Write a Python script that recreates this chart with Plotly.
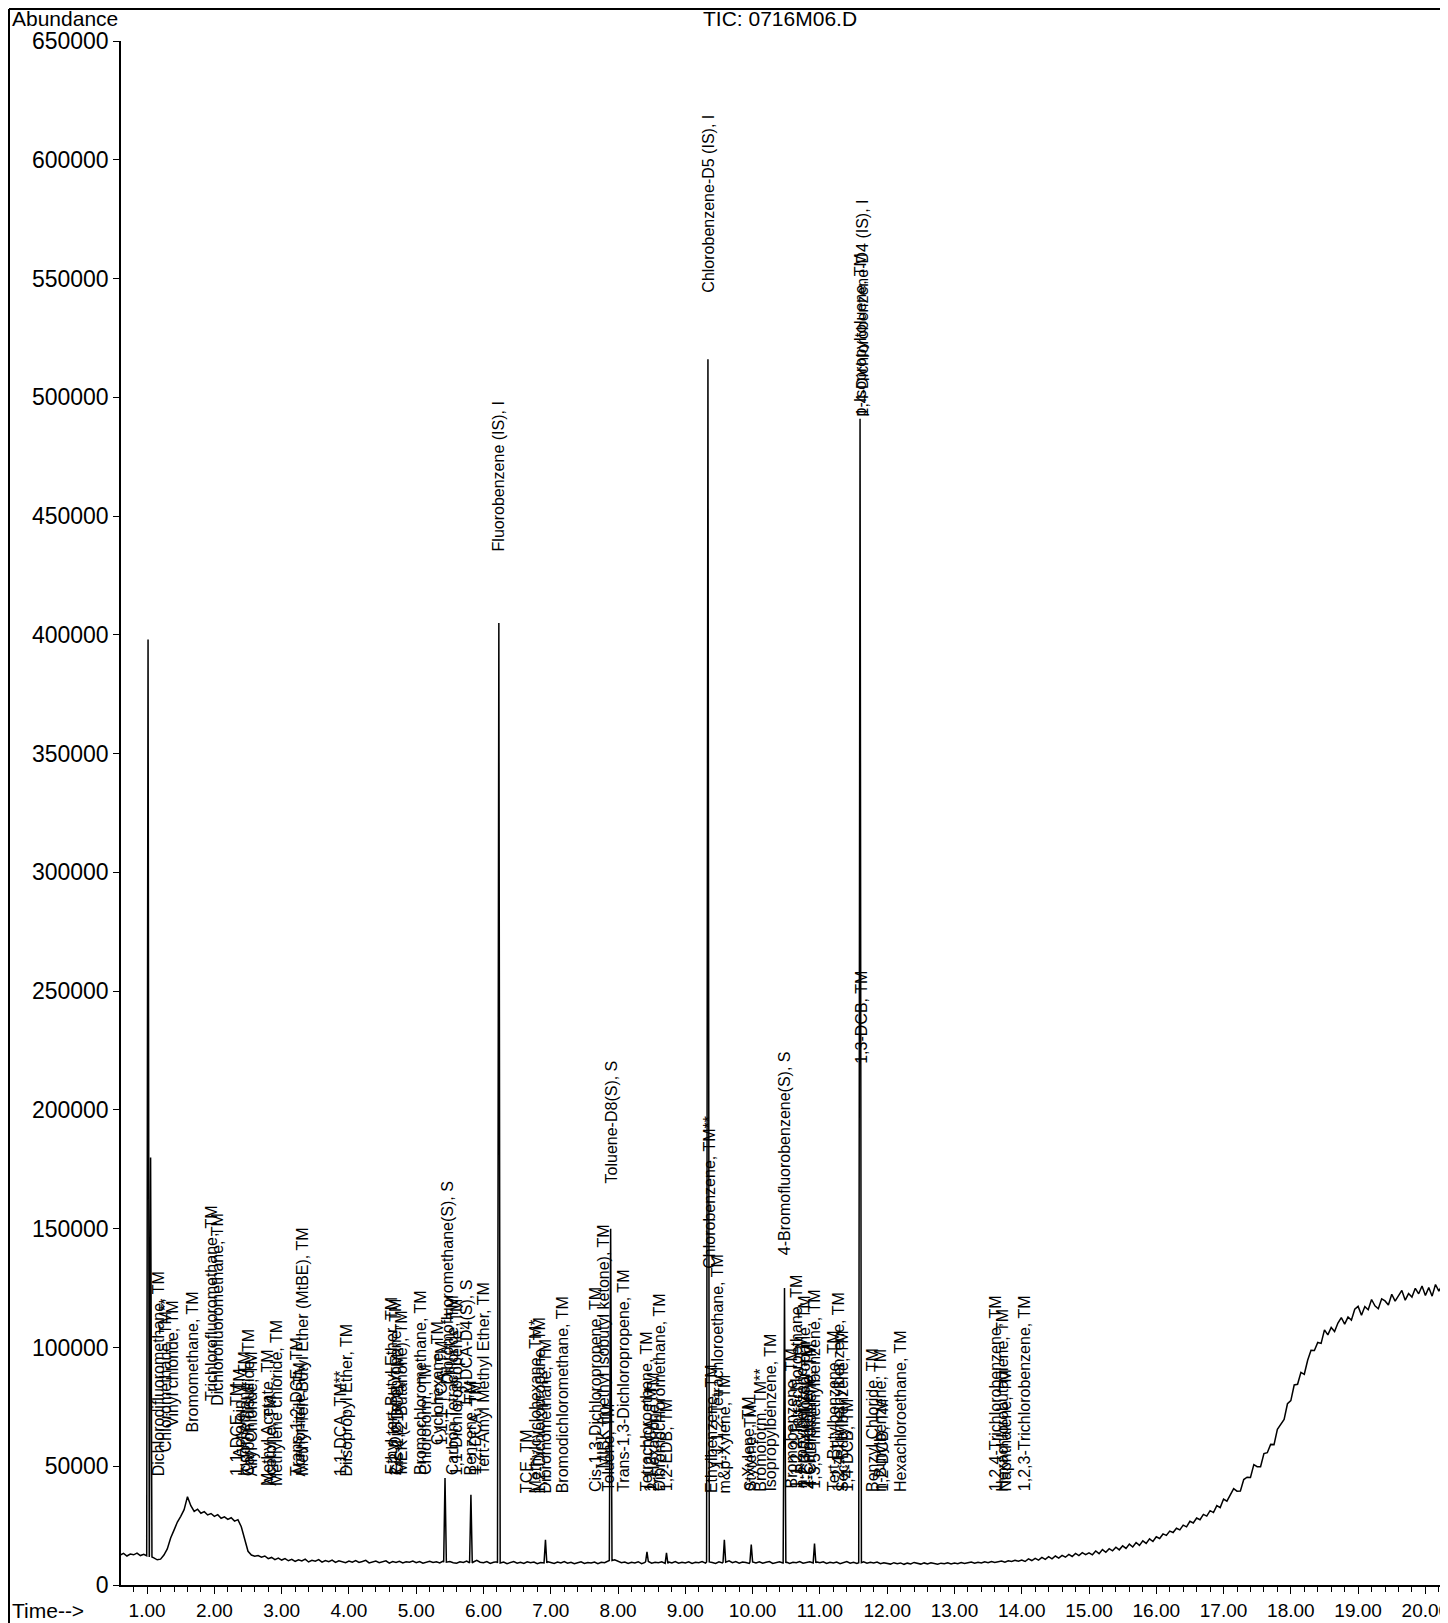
import numpy as np
import plotly.graph_objects as go

# ---------------- data ----------------
# baseline (TIC abundance) sampled every 0.05 min starting at 0.60 min
baseline_start = 0.6
baseline_step = 0.05
baseline_abundance = [
    # 0.60 - 0.95
    12600, 13300, 12200, 13000, 12700, 13400, 12400, 12900,
    # 1.00 - 1.95
    12300, 11800, 11400, 10600, 10900, 12600, 15200, 19800, 23100, 26500,
    28900, 31700, 37200, 33400, 31000, 31900, 30200, 30900, 29500, 30100,
    # 2.00 - 2.95
    28900, 29600, 28100, 28700, 27600, 28300, 26900, 27500, 24500, 19500,
    14200, 12600, 12100, 12400, 11700, 12200, 11100, 11600, 10700, 11300,
    # 3.00 - 3.95
    10500, 11100, 10200, 10800, 9900, 10600, 10100, 10900, 9700, 10400,
    10000, 10700, 9600, 10300, 9800, 10500, 9500, 10200, 9900, 9400,
    # 4.00 - 4.95
    10100, 9600, 10300, 9500, 9900, 10400, 9300, 9800, 10100, 9400,
    9700, 10200, 9200, 9900, 9500, 10000, 9300, 9800, 9600, 10100,
    # 5.00 - 5.95
    9400, 9900, 9200, 9700, 10000, 9500, 9800, 9300, 10100, 9600,
    9900, 9400, 9200, 9800, 9500, 10100, 9300, 9700, 10400, 9600,
    # 6.00 - 6.95
    9400, 9900, 9100, 9600, 9800, 9300, 9700, 9000, 9500, 9900,
    9200, 9600, 9100, 9800, 9400, 9700, 9000, 9500, 9300, 9800,
    # 7.00 - 7.95
    9500, 9100, 9700, 9300, 9900, 9200, 9600, 9000, 9400, 9800,
    9100, 9500, 9300, 9700, 9000, 9600, 9400, 9900, 10300, 10600,
    # 8.00 - 8.95
    9900, 9400, 9700, 9100, 9600, 9300, 9800, 9000, 9500, 9900,
    9200, 9600, 9400, 9800, 9100, 9700, 9300, 9900, 9200, 9600,
    # 9.00 - 9.95
    9300, 9800, 9100, 9600, 9400, 9900, 9200, 9700, 9500, 9100,
    9800, 9300, 9600, 10200, 9400, 9900, 9200, 9700, 9500, 9100,
    # 10.00 - 10.95
    9700, 9300, 9800, 9200, 9600, 9900, 9100, 9500, 9800, 9300,
    9700, 9100, 9600, 9400, 9900, 9200, 9500, 9800, 9300, 9700,
    # 11.00 - 11.95
    9400, 9800, 9100, 9600, 9300, 9700, 9000, 9500, 9900, 9200,
    9600, 9100, 9400, 9800, 9200, 9600, 9300, 9700, 9000, 9400,
    # 12.00 - 12.95
    9100, 8800, 9400, 9000, 9300, 8700, 9200, 8900, 9500, 9000,
    8800, 9300, 8900, 9400, 9100, 8700, 9200, 9000, 9400, 8900,
    # 13.00 - 13.95
    9300, 9000, 9500, 9100, 9400, 9700, 9200, 9600, 9300, 9800,
    9400, 9900, 9500, 9800, 10100, 9600, 10200, 9900, 10400, 10000,
    # 14.00 - 14.95
    10500, 9900, 11000, 10300, 11200, 10500, 11600, 10800, 11900, 11000,
    12200, 11300, 12500, 11700, 12900, 12000, 13300, 12400, 13600, 12800,
    # 15.00 - 15.95
    13500, 12700, 14300, 13200, 14900, 13800, 15300, 14400, 15900, 14800,
    16500, 15400, 17200, 16000, 17900, 16700, 18600, 17500, 19400, 18300,
    # 16.00 - 16.95
    20300, 19600, 21500, 20900, 22700, 22100, 23900, 23200, 25200, 24500,
    26800, 26100, 28200, 27500, 29700, 29000, 31300, 30500, 33400, 32600,
    # 17.00 - 17.95
    36200, 35300, 38000, 40600, 39500, 39600, 44400, 45400, 45300, 50700,
    49800, 49800, 55300, 55700, 59200, 59100, 65500, 67500, 69700, 76300,
    # 18.00 - 18.95
    77600, 84200, 84500, 89500, 88700, 94600, 98800, 98700, 102100, 101700,
    107400, 105300, 108400, 106700, 110300, 112600, 109800, 112800, 111500, 116100,
    # 19.00 - 19.95
    117300, 113600, 117200, 115900, 120200, 117500, 116300, 120500, 119600, 117900,
    122400, 119500, 121800, 124000, 119900, 122700, 121200, 124900, 122600, 125900,
    # 20.00 - 20.30
    121900, 125200, 121600, 126500, 123700, 126300, 123300,
]

# peaks: retention time (min) and apex abundance
peak_rt = [1.014, 1.052, 5.428, 5.813, 6.228, 6.921, 7.890, 8.43, 8.72,
           9.336, 9.58, 9.98, 10.474, 10.92, 11.597]
peak_height = [398000, 180000, 45000, 38000, 405000, 19000, 150000, 14000, 13500,
               516000, 19000, 17000, 125000, 17500, 491000]

# compound labels: text, retention time, abundance where the label starts
label_text = [
    "Dichlorodifluoromethane, TM", "Chloromethane, TM**", "Vinyl chloride, TM",
    "Bromomethane, TM", "Trichlorofluoromethane, TM", "Dichlorofluoromethane, TM",
    "1,1-DCE, TM", "Acrolein, TM", "Iodomethane, TM", "Carbon disulfide, TM",
    "Allyl Chloride, TM", "Methyl Acetate, TM", "Acetone, TM", "Methylene chloride, TM",
    "Trans-1,2-DCE, TM", "Acrylonitrile, TM", "Methyl-Tert-Butyl Ether (MtBE), TM",
    "1,1-DCA, TM**", "Diisopropyl Ether, TM",
    "Ethyl tert-Butyl Ether, TM", "2,2-Dichloropropane, TM", "Cis-1,2-DCE, TM",
    "MEK (2-Butanone), TM", "Bromochloromethane, TM", "Chloroform, TM",
    "Cyclohexane, TM", "1,1,1-TCA, TM", "Dibromofluoromethane(S), S",
    "Carbon Tetrachloride, TM", "1,1-Dichloropropene, TM", "Benzene, TM",
    "1,2-DCA-D4(S), S", "1,2-DCA, TM", "Tert-Amyl Methyl Ether, TM",
    "TCE, TM", "Methylcyclohexane, TM*", "1,2-Dichloropropane, TM",
    "Dibromomethane, TM", "Bromodichloromethane, TM", "Cis-1,3-Dichloropropene, TM",
    "MIBK (methyl isobutyl ketone), TM", "Toluene, TM", "Toluene-D8(S), S",
    "Trans-1,3-Dichloropropene, TM", "Tetrachloroethene, TM", "1,1,2-TCA, TM",
    "2-Hexanone, TM", "Dibromochloromethane, TM", "1,2-EDB, TM",
    "Chlorobenzene, TM**", "Ethylbenzene, TM", "1,1,1,2-Tetrachloroethane, TM",
    "m&p-Xylene, TM", "o-Xylene, TM", "Styrene, TM", "Bromoform, TM**",
    "Isopropylbenzene, TM", "4-Bromofluorobenzene(S), S", "Bromobenzene, TM",
    "1,1,2,2-Tetrachloroethane, TM", "n-Propylbenzene, TM", "1,2,3-Trichloropropane, TM",
    "2-Chlorotoluene, TM", "4-Chlorotoluene, TM", "1,3,5-Trimethylbenzene, TM",
    "Tert-Butylbenzene, TM", "1,2,4-Trimethylbenzene, TM", "Sec-Butylbenzene, TM",
    "1,4-DCB, TM", "Benzyl Chloride, TM", "n-Butylbenzene, TM", "1,2-DCB, TM",
    "Hexachloroethane, TM", "1,2,4-Trichlorobenzene, TM", "Hexachlorobutadiene, TM",
    "Naphthalene, TM", "1,2,3-Trichlorobenzene, TM",
    "Fluorobenzene (IS), I", "Chlorobenzene-D5 (IS), I",
    "1,4-Dichlorobenzene-D4 (IS), I", "p-Isopropyltoluene, TM", "1,3-DCB, TM",
]
label_rt = [
    1.168, 1.275, 1.367, 1.667, 1.967, 2.044, 2.337, 2.383, 2.460, 2.506,
    2.552, 2.782, 2.829, 2.922, 3.229, 3.260, 3.321, 3.867, 3.967,
    4.634, 4.684, 4.734, 4.784, 5.066, 5.141, 5.329, 5.380, 5.453,
    5.551, 5.591, 5.799, 5.750, 5.874, 5.999,
    6.642, 6.765, 6.839, 6.914, 7.187, 7.657, 7.781, 7.865, 7.906,
    8.078, 8.425, 8.474, 8.523, 8.623, 8.722,
    9.367, 9.398, 9.474, 9.582, 9.935, 9.966, 10.105, 10.274, 10.474, 10.582,
    10.659, 10.720, 10.766, 10.812, 10.858, 10.920, 11.197, 11.274, 11.335,
    11.397, 11.781, 11.889, 11.920, 12.197, 13.612, 13.704, 13.766, 14.043,
    6.228, 9.351, 11.627, 11.597, 11.627,
]
label_abund = [
    44900, 54900, 65800, 63600, 76700, 74500, 44900, 52700, 44900, 44900,
    44900, 41000, 41000, 41000, 44900, 44900, 44900, 44900, 44900,
    45500, 45500, 45500, 45500, 45500, 45500, 58100, 58100, 83300,
    45500, 45500, 45500, 73700, 45500, 45500,
    37700, 37700, 37700, 37700, 37700, 38500, 48300, 38500, 168300,
    38500, 38500, 38500, 38500, 38500, 38500,
    132100, 37700, 48400, 37700, 38500, 38500, 38500, 38500, 137800, 39700,
    39700, 39700, 39700, 39700, 39700, 39700, 38500, 38500, 38500,
    38500, 38500, 38500, 38500, 38500, 38500, 38500, 38500, 38500,
    434200, 543200, 490900, 490900, 218400,
]

y_tick_values = list(range(0, 650001, 50000))
x_tick_values = list(range(1, 21))

# ---------------- build the trace ----------------
bl_t = np.round(baseline_start + baseline_step * np.arange(len(baseline_abundance)), 3)
bl_v = np.array(baseline_abundance, dtype=float)
W = 0.02
keep = np.ones(len(bl_t), dtype=bool)
for rt in peak_rt:
    keep &= ~((bl_t > rt - W) & (bl_t < rt + W))
xs = list(bl_t[keep])
ys = list(bl_v[keep])
for rt, h in zip(peak_rt, peak_height):
    foot = bl_v[int(np.argmin(np.abs(bl_t - rt)))]
    xs += [rt - W, rt, rt + W]
    ys += [foot, h, foot]
order = np.argsort(xs, kind="stable")
xs = np.array(xs)[order]
ys = np.array(ys)[order]

FONT = "Liberation Sans, Arial, sans-serif"
fig = go.Figure()
fig.add_trace(go.Scatter(x=xs, y=ys, mode="lines",
                         line=dict(color="black", width=1.5),
                         hoverinfo="skip", showlegend=False))

# the page body keeps an 8 px margin, so the figure is 8 px smaller
OFF = 8
W_PX, H_PX = 1448 - OFF, 1623 - OFF
ML, MR, MT = 121 - OFF, 0, 41 - OFF
MB = H_PX - (1585 - OFF)
PW = W_PX - ML - MR
PH = H_PX - MT - MB


def px_x(page_px):
    return (page_px - OFF - ML) / PW


def px_y(page_py):
    return (1585 - page_py) / PH


annotations = []
for txt, rt, ab in zip(label_text, label_rt, label_abund):
    annotations.append(dict(x=rt, y=ab, xref="x", yref="y", text=txt,
                            textangle=-90, showarrow=False,
                            xanchor="center", yanchor="bottom",
                            font=dict(family=FONT, size=16, color="black")))

annotations += [
    dict(x=px_x(10), y=px_y(19), xref="paper", yref="paper", text="Abundance",
         showarrow=False, xanchor="left", yanchor="middle",
         font=dict(family=FONT, size=21, color="black")),
    dict(x=px_x(780), y=px_y(19), xref="paper", yref="paper", text="TIC: 0716M06.D",
         showarrow=False, xanchor="center", yanchor="middle",
         font=dict(family=FONT, size=21, color="black")),
    dict(x=px_x(10), y=px_y(1610), xref="paper", yref="paper", text="Time-->",
         showarrow=False, xanchor="left", yanchor="middle",
         font=dict(family=FONT, size=21, color="black")),
]

shapes = [
    dict(type="line", xref="paper", yref="paper", x0=px_x(9), x1=px_x(9),
         y0=px_y(1623), y1=px_y(9), line=dict(color="black", width=2)),
    dict(type="line", xref="paper", yref="paper", x0=px_x(9), x1=1.0,
         y0=px_y(9), y1=px_y(9), line=dict(color="black", width=2)),
]

fig.update_layout(
    width=W_PX, height=H_PX,
    margin=dict(l=ML, r=MR, t=MT, b=MB, pad=0),
    paper_bgcolor="white", plot_bgcolor="white",
    annotations=annotations, shapes=shapes,
    showlegend=False,
    xaxis=dict(range=[0.612, 20.336], tickmode="array", tickvals=x_tick_values,
               tickformat=".2f", showgrid=False, zeroline=False, automargin=False,
               showline=True, linecolor="black", linewidth=1.5,
               ticks="outside", ticklen=7, tickwidth=1.3, tickcolor="black",
               ticklabelstandoff=0, ticklabeloverflow="allow",
               minor=dict(dtick=0.2, tick0=0, ticks="outside", ticklen=5,
                          tickwidth=1, tickcolor="black", showgrid=False),
               tickfont=dict(family=FONT, size=19, color="black")),
    yaxis=dict(range=[0, 650000], tickmode="array", tickvals=y_tick_values,
               tickformat="d", showgrid=False, zeroline=False, automargin=False,
               showline=True, linecolor="black", linewidth=1.5,
               ticks="outside", ticklen=6, tickwidth=1.3, tickcolor="black",
               ticklabelstandoff=0, ticklabeloverflow="allow",
               tickfont=dict(family=FONT, size=23, color="black")),
)

fig.write_html("out.html")
